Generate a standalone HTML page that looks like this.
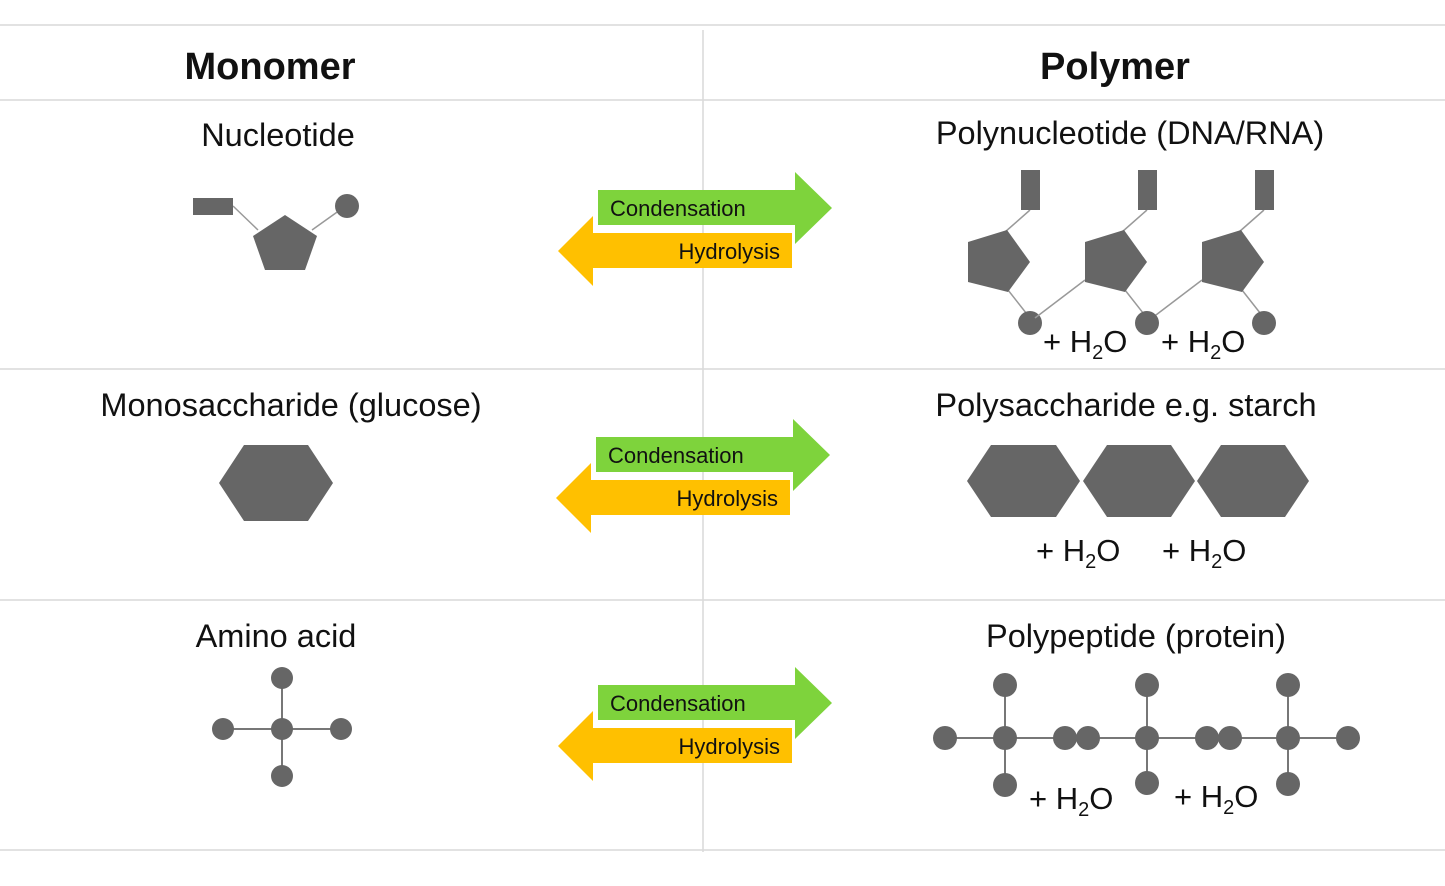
<!DOCTYPE html>
<html><head><style>
html,body{margin:0;padding:0;background:#fff;}
svg{display:block;}
text{font-family:"Liberation Sans",sans-serif;fill:#111;}
</style></head><body>
<svg width="1445" height="886" viewBox="0 0 1445 886" xmlns="http://www.w3.org/2000/svg">
<g stroke="#d9d9d9" stroke-width="1.5">
<line x1="0" y1="25" x2="1445" y2="25"/>
<line x1="0" y1="100" x2="1445" y2="100"/>
<line x1="0" y1="369" x2="1445" y2="369"/>
<line x1="0" y1="600" x2="1445" y2="600"/>
<line x1="0" y1="850" x2="1445" y2="850"/>
<line x1="703" y1="30" x2="703" y2="852"/>
</g>
<text x="270" y="79" font-size="38" font-weight="bold" text-anchor="middle">Monomer</text>
<text x="1115" y="79" font-size="38" font-weight="bold" text-anchor="middle">Polymer</text>
<g font-size="32.5" text-anchor="middle">
<text x="278" y="146">Nucleotide</text>
<text x="1130" y="144">Polynucleotide (DNA/RNA)</text>
<text x="291" y="416">Monosaccharide (glucose)</text>
<text x="1126" y="416">Polysaccharide e.g. starch</text>
<text x="276" y="647">Amino acid</text>
<text x="1136" y="647">Polypeptide (protein)</text>
</g>
<g id="arr">
<polygon points="598,190 795,190 795,172 832,208 795,244 795,225 598,225" fill="#7ed33c"/>
<polygon points="792,233 593,233 593,216 558,251 593,286 593,268 792,268" fill="#ffc000"/>
<text x="610" y="216" font-size="22">Condensation</text>
<text x="780" y="259" font-size="22" text-anchor="end">Hydrolysis</text>
</g>
<use href="#arr" transform="translate(-2,247)"/>
<use href="#arr" transform="translate(0,495)"/>
<g fill="#666" stroke="#999" stroke-width="1.5">
<line x1="233" y1="206" x2="258" y2="230"/>
<line x1="312" y1="230" x2="340" y2="210"/>
<rect x="193" y="198" width="40" height="17" stroke="none"/>
<polygon points="285,215 317,236 305,270 265,270 253,236" stroke="none"/>
<circle cx="347" cy="206" r="12" stroke="none"/>
<g id="nuc">
<line x1="1030" y1="210" x2="1005" y2="232"/>
<line x1="1008" y1="290" x2="1030" y2="318"/>
<rect x="1021" y="170" width="19" height="40" stroke="none"/>
<polygon points="1007,230 1030,262 1008,292 968,282 968,242" stroke="none"/>
<circle cx="1030" cy="323" r="12" stroke="none"/>
</g>
<line x1="1035" y1="318" x2="1085" y2="280"/>
<line x1="1152" y1="318" x2="1202" y2="280"/>
<use href="#nuc" transform="translate(117,0)"/>
<use href="#nuc" transform="translate(234,0)"/>
<polygon points="219,483 244,445 308,445 333,483 308,521 244,521" stroke="none"/>
<polygon points="967,481 991,445 1056,445 1080,481 1056,517 991,517" stroke="none"/>
<polygon points="1083,481 1107,445 1171,445 1195,481 1171,517 1107,517" stroke="none"/>
<polygon points="1197,481 1221,445 1285,445 1309,481 1285,517 1221,517" stroke="none"/>
<g stroke="#777" stroke-width="2">
<line x1="282" y1="678" x2="282" y2="776"/>
<line x1="223" y1="729" x2="341" y2="729"/>
<line x1="945" y1="738" x2="1348" y2="738"/>
<line x1="1005" y1="685" x2="1005" y2="785"/>
<line x1="1147" y1="685" x2="1147" y2="783"/>
<line x1="1288" y1="685" x2="1288" y2="784"/>
</g>
<g stroke="none">
<circle cx="282" cy="678" r="11"/>
<circle cx="282" cy="776" r="11"/>
<circle cx="223" cy="729" r="11"/>
<circle cx="341" cy="729" r="11"/>
<circle cx="282" cy="729" r="11"/>
<circle cx="945" cy="738" r="12"/>
<circle cx="1005" cy="738" r="12"/><circle cx="1005" cy="685" r="12"/><circle cx="1005" cy="785" r="12"/>
<circle cx="1065" cy="738" r="12"/><circle cx="1088" cy="738" r="12"/>
<circle cx="1147" cy="738" r="12"/><circle cx="1147" cy="685" r="12"/><circle cx="1147" cy="783" r="12"/>
<circle cx="1207" cy="738" r="12"/><circle cx="1230" cy="738" r="12"/>
<circle cx="1288" cy="738" r="12"/><circle cx="1288" cy="685" r="12"/><circle cx="1288" cy="784" r="12"/>
<circle cx="1348" cy="738" r="12"/>
</g>
</g>
<g font-size="31">
<text x="1043" y="352">+ H<tspan font-size="20" dy="7">2</tspan><tspan dy="-7">O</tspan></text>
<text x="1161" y="352">+ H<tspan font-size="20" dy="7">2</tspan><tspan dy="-7">O</tspan></text>
<text x="1036" y="561">+ H<tspan font-size="20" dy="7">2</tspan><tspan dy="-7">O</tspan></text>
<text x="1162" y="561">+ H<tspan font-size="20" dy="7">2</tspan><tspan dy="-7">O</tspan></text>
<text x="1029" y="809">+ H<tspan font-size="20" dy="7">2</tspan><tspan dy="-7">O</tspan></text>
<text x="1174" y="807">+ H<tspan font-size="20" dy="7">2</tspan><tspan dy="-7">O</tspan></text>
</g>
</svg>
</body></html>
